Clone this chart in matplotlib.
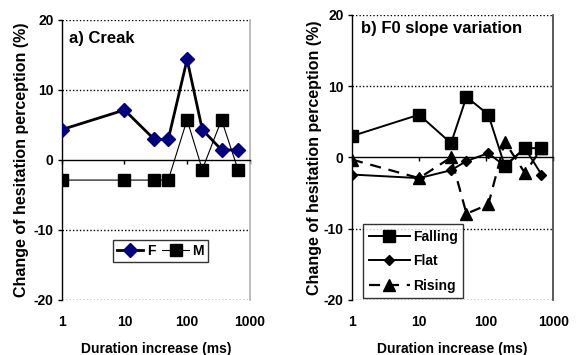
import numpy as np
import matplotlib.pyplot as plt
from matplotlib.ticker import FixedLocator, NullLocator, NullFormatter

plt.rcParams['font.family'] = ['Liberation Sans', 'DejaVu Sans']
plt.rcParams['font.weight'] = 'bold'

# a) Creak
creak_x = [1, 10, 30, 50, 100, 175, 355, 650]
creak_f = [4.3, 7.1, 2.9, 2.9, 14.3, 4.3, 1.4, 1.4]
creak_m = [-2.9, -2.9, -2.9, -2.9, 5.7, -1.4, 5.7, -1.4]

# b) F0 slope variation
slope_x = [1, 10, 30, 51, 108, 190, 380, 670]
falling = [3.0, 6.0, 2.0, 8.5, 6.0, -1.2, 1.3, 1.3]
flat = [-2.4, -2.9, -1.8, -0.5, 0.6, -1.2, 1.3, -2.4]
rising = [-0.3, -2.9, 0.0, -7.9, -6.6, 2.2, -2.2, 1.3]

yticks = [-20, -10, 0, 10, 20]
xticks = [1, 10, 100, 1000]
xlabel = 'Duration increase (ms)'
ylabel = 'Change of hesitation perception (%)'

fig = plt.figure(figsize=(5.78, 3.55), dpi=100)
axA = fig.add_axes([0.107, 0.155, 0.325, 0.790])
axB = fig.add_axes([0.609, 0.155, 0.348, 0.803])


def style_axes(ax, right_color, ylabelpad):
    ax.set_xscale('log')
    ax.set_xlim(1, 1000)
    ax.set_ylim(-20, 20)
    for y in [-20, -10, 10, 20]:
        ax.axhline(y, color='black', lw=1.0, ls=(0, (1, 1.5)), zorder=1)
    ax.spines['top'].set_visible(False)
    ax.spines['right'].set_color(right_color)
    ax.spines['right'].set_linewidth(1.2)
    ax.spines['left'].set_linewidth(1.0)
    ax.spines['bottom'].set_position(('data', 0))
    ax.spines['bottom'].set_linewidth(1.0)
    ax.xaxis.set_major_locator(FixedLocator(xticks))
    ax.xaxis.set_minor_locator(NullLocator())
    ax.xaxis.set_major_formatter(NullFormatter())
    ax.tick_params(axis='x', direction='out', length=3, width=1)
    ax.set_yticks(yticks)
    ax.set_yticklabels([str(v) for v in yticks], fontsize=10, fontweight='bold')
    ax.tick_params(axis='y', direction='out', length=3, width=1, pad=3)
    sec = ax.secondary_xaxis(0)
    sec.set_xticks(xticks)
    sec.set_xticklabels([str(v) for v in xticks], fontsize=10, fontweight='bold')
    sec.xaxis.set_minor_locator(NullLocator())
    sec.tick_params(length=0, pad=11)
    sec.spines['bottom'].set_visible(False)
    sec.set_xlabel(xlabel, fontsize=10, fontweight='bold', labelpad=9)
    ax.set_ylabel(ylabel, fontsize=11.5, fontweight='bold', labelpad=ylabelpad)


style_axes(axA, '#b0b0b0', 3)
style_axes(axB, '#404040', 1)

# panel a
axA.plot(creak_x, creak_m, color='black', lw=0.8, marker='s', ms=8,
         mfc='black', mec='black', label='M', zorder=3)
axA.plot(creak_x, creak_f, color='black', lw=2.0, marker='D', ms=7,
         mfc='#000080', mec='#000080', label='F', zorder=4)
axA.text(0.04, 0.96, 'a) Creak', transform=axA.transAxes, fontsize=12,
         fontweight='bold', va='top', ha='left')
hA, lA = axA.get_legend_handles_labels()
legA = axA.legend(hA[::-1], lA[::-1], ncol=2, loc='upper left',
                  bbox_to_anchor=(0.235, 0.24), frameon=True, fancybox=False,
                  edgecolor='black', handlelength=1.9,
                  handletextpad=0.25, columnspacing=0.5, borderpad=0.3,
                  prop={'weight': 'bold', 'size': 10})
legA.get_frame().set_linewidth(1.0)

# panel b
axB.plot(slope_x, rising, color='black', lw=1.6, ls=(0, (5, 3.5)), marker='^',
         ms=8, mfc='black', mec='black', label='Rising', zorder=3)
axB.plot(slope_x, flat, color='black', lw=1.4, marker='D', ms=5.5,
         mfc='black', mec='black', label='Flat', zorder=4)
axB.plot(slope_x, falling, color='black', lw=1.4, marker='s', ms=8,
         mfc='black', mec='black', label='Falling', zorder=5)
axB.text(0.045, 0.98, 'b) F0 slope variation', transform=axB.transAxes,
         fontsize=12, fontweight='bold', va='top', ha='left')
hB, lB = axB.get_legend_handles_labels()
legB = axB.legend(hB[::-1], lB[::-1], loc='upper left',
                  bbox_to_anchor=(0.02, 0.29), frameon=True, fancybox=False,
                  edgecolor='black', handlelength=3.0, handletextpad=0.2,
                  borderpad=0.4, labelspacing=0.75,
                  prop={'weight': 'bold', 'size': 10})
legB.get_frame().set_linewidth(1.0)

fig.savefig('out.png', dpi=100)
